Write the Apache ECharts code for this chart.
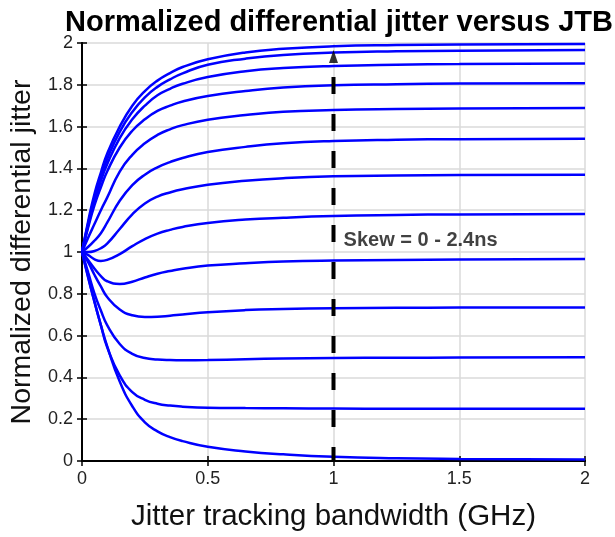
<!DOCTYPE html>
<html>
<head>
<meta charset="utf-8">
<script src="https://cdn.jsdelivr.net/npm/echarts@6/dist/echarts.min.js"></script>
<style>
  html, body { margin: 0; padding: 0; background: #fff; }
  #chart { width: 615px; height: 537px; }
</style>
</head>
<body>
<div id="chart"></div>
<script>
// Jitter tracking bandwidth sample points (GHz)
const bandwidth = [0, 0.025, 0.05, 0.075, 0.1, 0.15, 0.2, 0.25, 0.3, 0.35, 0.4, 0.5, 0.65, 0.8, 1.0, 1.25, 1.5, 2.0];

// Normalized differential jitter, one curve per skew value
const curve1  = [1, 1.15, 1.28, 1.38, 1.47, 1.60, 1.70, 1.77, 1.82, 1.856, 1.885, 1.922, 1.955, 1.972, 1.984, 1.99, 1.993, 1.995];
const curve2  = [1, 1.14, 1.26, 1.36, 1.445, 1.575, 1.67, 1.74, 1.79, 1.826, 1.855, 1.896, 1.925, 1.943, 1.954, 1.96, 1.963, 1.966];
const curve3  = [1, 1.13, 1.245, 1.34, 1.42, 1.545, 1.635, 1.70, 1.75, 1.781, 1.805, 1.837, 1.865, 1.88, 1.89, 1.896, 1.899, 1.902];
const curve4  = [1, 1.12, 1.225, 1.31, 1.385, 1.50, 1.58, 1.635, 1.675, 1.70, 1.72, 1.746, 1.77, 1.787, 1.798, 1.803, 1.806, 1.808];
const curve5  = [1, 1.07, 1.135, 1.20, 1.26, 1.385, 1.465, 1.52, 1.56, 1.587, 1.607, 1.633, 1.655, 1.671, 1.679, 1.684, 1.687, 1.689];
const curve6  = [1, 1.025, 1.055, 1.09, 1.14, 1.245, 1.32, 1.37, 1.405, 1.43, 1.45, 1.478, 1.503, 1.52, 1.531, 1.537, 1.54, 1.542];
const curve7  = [1, 1.0, 1.005, 1.018, 1.04, 1.11, 1.18, 1.232, 1.265, 1.285, 1.30, 1.322, 1.341, 1.353, 1.362, 1.366, 1.368, 1.37];
const curve8  = [1, 0.985, 0.965, 0.957, 0.962, 0.99, 1.028, 1.062, 1.088, 1.106, 1.12, 1.139, 1.155, 1.164, 1.172, 1.177, 1.18, 1.182];
const curve9  = [1, 0.96, 0.92, 0.885, 0.86, 0.847, 0.858, 0.878, 0.896, 0.909, 0.92, 0.935, 0.946, 0.954, 0.959, 0.962, 0.964, 0.966];
const curve10 = [1, 0.95, 0.89, 0.835, 0.785, 0.725, 0.697, 0.689, 0.69, 0.695, 0.701, 0.712, 0.722, 0.727, 0.731, 0.733, 0.734, 0.735];
const curve11 = [1, 0.90, 0.80, 0.72, 0.65, 0.56, 0.513, 0.493, 0.486, 0.483, 0.482, 0.483, 0.487, 0.49, 0.493, 0.494, 0.495, 0.496];
const curve12 = [1, 0.88, 0.76, 0.65, 0.545, 0.41, 0.33, 0.293, 0.274, 0.265, 0.26, 0.255, 0.253, 0.252, 0.251, 0.25, 0.25, 0.25];
const curve13 = [1, 0.875, 0.76, 0.65, 0.55, 0.38, 0.262, 0.185, 0.142, 0.114, 0.095, 0.068, 0.046, 0.032, 0.02, 0.013, 0.01, 0.007];

const curves = [curve1, curve2, curve3, curve4, curve5, curve6, curve7,
                curve8, curve9, curve10, curve11, curve12, curve13];

// Skew sweep arrow at 1 GHz and its annotation
const arrowX = 1;
const arrowBase = [0, 1.905];
const arrowTip = 1.935;
const skewLabel = 'Skew = 0 - 2.4ns';
const skewLabelAt = [1.04, 1.057];

const titleText = 'Normalized differential jitter versus JTB';
const xName = 'Jitter tracking bandwidth (GHz)';
const yName = 'Normalized differential jitter';

const FONT = '"Liberation Sans", Arial, Helvetica, sans-serif';
const chart = echarts.init(document.getElementById('chart'), null, { renderer: 'canvas' });

const boxAxis = (extra) => Object.assign({
  type: 'value',
  axisLine: { show: true, lineStyle: { color: '#000', width: 2 } },
  axisTick: { show: true, inside: true, length: 5, lineStyle: { color: '#000', width: 1.5 } },
  axisLabel: { show: false },
  splitLine: { show: false }
}, extra);

const series = curves.map((c, i) => ({
  type: 'line',
  name: 'curve' + (i + 1),
  data: bandwidth.map((x, j) => [x, c[j]]),
  smooth: 0.5,
  showSymbol: false,
  lineStyle: { color: '#0000ff', width: 2.5 },
  z: 3
}));

series.push({
  type: 'line',
  name: 'skewArrow',
  data: arrowBase.map(y => [arrowX, y]),
  showSymbol: false,
  lineStyle: { color: '#000', width: 4, type: [17, 20], dashOffset: 3 },
  z: 5
});
series.push({
  type: 'scatter',
  name: 'skewArrowHead',
  data: [[arrowX, arrowTip]],
  symbol: 'triangle',
  symbolSize: [9, 13],
  itemStyle: { color: '#000' },
  z: 6
});
series.push({
  type: 'scatter',
  name: 'skewText',
  data: [skewLabelAt],
  symbolSize: 0,
  label: {
    show: true, position: 'right', distance: 0,
    formatter: skewLabel,
    fontFamily: FONT, fontWeight: 'bold', fontSize: 20, color: '#111'
  },
  z: 7
});

chart.setOption({
  animation: false,
  backgroundColor: '#fff',
  title: {
    text: titleText,
    left: 334, top: 3, textAlign: 'center',
    textStyle: { fontFamily: FONT, fontWeight: 'bold', fontSize: 29, color: '#000' }
  },
  grid: { left: 82, right: 30, top: 43, bottom: 76, containLabel: false },
  xAxis: [
    {
      type: 'value', min: 0, max: 2, interval: 0.5, position: 'bottom',
      name: xName, nameLocation: 'middle', nameGap: 41,
      nameTextStyle: { fontFamily: FONT, fontSize: 29.5, color: '#111' },
      axisLine: { show: true, lineStyle: { color: '#000', width: 2 } },
      axisTick: { show: true, inside: true, length: 5, lineStyle: { color: '#000', width: 1.5 } },
      axisLabel: { fontFamily: FONT, fontSize: 18, color: '#222', margin: 9 },
      splitLine: { show: true, lineStyle: { color: '#dadada', width: 1.5 } }
    },
    boxAxis({ min: 0, max: 2, interval: 0.5, position: 'top' })
  ],
  yAxis: [
    {
      type: 'value', min: 0, max: 2, interval: 0.2, position: 'left',
      name: yName, nameLocation: 'middle', nameGap: 44, nameRotate: 90,
      nameTextStyle: { fontFamily: FONT, fontSize: 28.5, color: '#111' },
      axisLine: { show: true, lineStyle: { color: '#000', width: 2 } },
      axisTick: { show: true, inside: true, length: 5, lineStyle: { color: '#000', width: 1.5 } },
      axisLabel: { fontFamily: FONT, fontSize: 18, color: '#222', margin: 9 },
      splitLine: { show: true, lineStyle: { color: '#dadada', width: 1.5 } }
    },
    boxAxis({ min: 0, max: 2, interval: 0.2, position: 'right' })
  ],
  series: series
});
</script>
</body>
</html>
